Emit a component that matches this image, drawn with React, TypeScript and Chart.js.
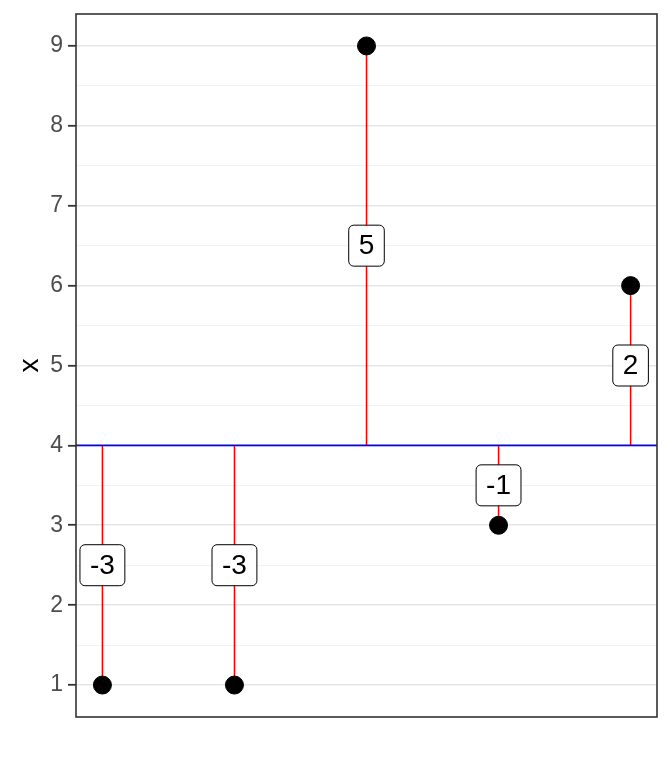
import React, { useEffect, useRef } from "react";
import { Chart, registerables } from "chart.js";

Chart.register(...registerables);

const categories = [1, 2, 3, 4, 5];
const values = [1, 1, 9, 3, 6];
const baseline = 4;
const diffLabels = ["-3", "-3", "5", "-1", "2"];
const yTicks = [1, 2, 3, 4, 5, 6, 7, 8, 9];
const yTitle = "x";

const FONT = "'Liberation Sans', Arial, sans-serif";

const labelPlugin = {
  id: "diffLabels",
  afterDatasetsDraw(chart: any) {
    const { ctx, scales } = chart;
    const xs = scales.x;
    const ys = scales.y;
    ctx.save();
    ctx.font = `28px ${FONT}`;
    ctx.textAlign = "center";
    ctx.textBaseline = "middle";
    categories.forEach((c, i) => {
      const mid = (values[i] + baseline) / 2;
      const px = xs.getPixelForValue(c);
      const py = ys.getPixelForValue(mid);
      const txt = diffLabels[i];
      const w = ctx.measureText(txt).width + 20;
      const h = 41;
      ctx.beginPath();
      ctx.roundRect(px - w / 2, py - h / 2, w, h, 5);
      ctx.fillStyle = "#ffffff";
      ctx.fill();
      ctx.lineWidth = 1;
      ctx.strokeStyle = "#000000";
      ctx.stroke();
      ctx.fillStyle = "#000000";
      ctx.fillText(txt, px, py + 1);
    });
    ctx.restore();
  },
  afterDraw(chart: any) {
    const { ctx, chartArea } = chart;
    ctx.save();
    ctx.strokeStyle = "#333333";
    ctx.lineWidth = 1.6;
    ctx.strokeRect(chartArea.left, chartArea.top, chartArea.right - chartArea.left, chartArea.bottom - chartArea.top);
    ctx.restore();
  },
};

export default function App() {
  const ref = useRef<HTMLCanvasElement>(null);
  useEffect(() => {
    if (!ref.current) return;
    const segDatasets = categories.map((c, i) => ({
      type: "line" as const,
      data: [
        { x: c, y: baseline },
        { x: c, y: values[i] },
      ],
      borderColor: "#ff0000",
      borderWidth: 1.5,
      pointRadius: 0,
      order: 3,
    }));
    const chart = new Chart(ref.current, {
      type: "scatter",
      data: {
        datasets: [
          {
            type: "scatter",
            data: categories.map((c, i) => ({ x: c, y: values[i] })),
            backgroundColor: "#000000",
            borderColor: "#000000",
            pointRadius: 9,
            pointHoverRadius: 9,
            order: 1,
          },
          {
            type: "line",
            data: [
              { x: 0.8, y: baseline },
              { x: 5.2, y: baseline },
            ],
            borderColor: "#0000ff",
            borderWidth: 1.6,
            pointRadius: 0,
            order: 2,
          } as any,
          ...segDatasets,
        ],
      },
      options: {
        animation: false,
        responsive: true,
        maintainAspectRatio: false,
        layout: { padding: { left: 0, top: 14, right: 15, bottom: 51 } },
        plugins: { legend: { display: false }, tooltip: { enabled: false } },
        scales: {
          x: {
            type: "linear",
            min: 0.8,
            max: 5.2,
            display: false,
          },
          y: {
            type: "linear",
            min: 0.6,
            max: 9.4,
            afterBuildTicks: (scale: any) => {
              const t: any[] = [];
              yTicks.forEach((v) => {
                t.push({ value: v });
                if (v < yTicks[yTicks.length - 1]) t.push({ value: v + 0.5 });
              });
              scale.ticks = t;
            },
            afterFit: (scale: any) => {
              scale.width = 76;
              scale.paddingTop = 0;
              scale.paddingBottom = 0;
            },
            border: { display: false },
            grid: {
              color: (ctx: any) => (Number.isInteger(ctx.tick?.value) ? "#e6e6e6" : "#f0f0f0"),
              lineWidth: (ctx: any) => (Number.isInteger(ctx.tick?.value) ? 1.6 : 0.9),
              tickColor: (ctx: any) => (Number.isInteger(ctx.tick?.value) ? "#333333" : "rgba(0,0,0,0)"),
              tickLength: 8,
              tickWidth: 1.8,
            },
            ticks: {
              autoSkip: false,
              padding: 5,
              color: "#4d4d4d",
              font: { family: FONT, size: 23 },
              callback: (v: any) => (Number.isInteger(v) ? String(v) : ""),
            },
            title: {
              display: true,
              text: yTitle,
              color: "#000000",
              font: { family: FONT, size: 28 },
              padding: { top: 13, bottom: 0 },
            },
          },
        },
      },
      plugins: [labelPlugin],
    });
    return () => chart.destroy();
  }, []);
  return (
    <div style={{ position: "absolute", left: 0, top: 0, width: 672, height: 768 }}>
      <canvas ref={ref} />
    </div>
  );
}
